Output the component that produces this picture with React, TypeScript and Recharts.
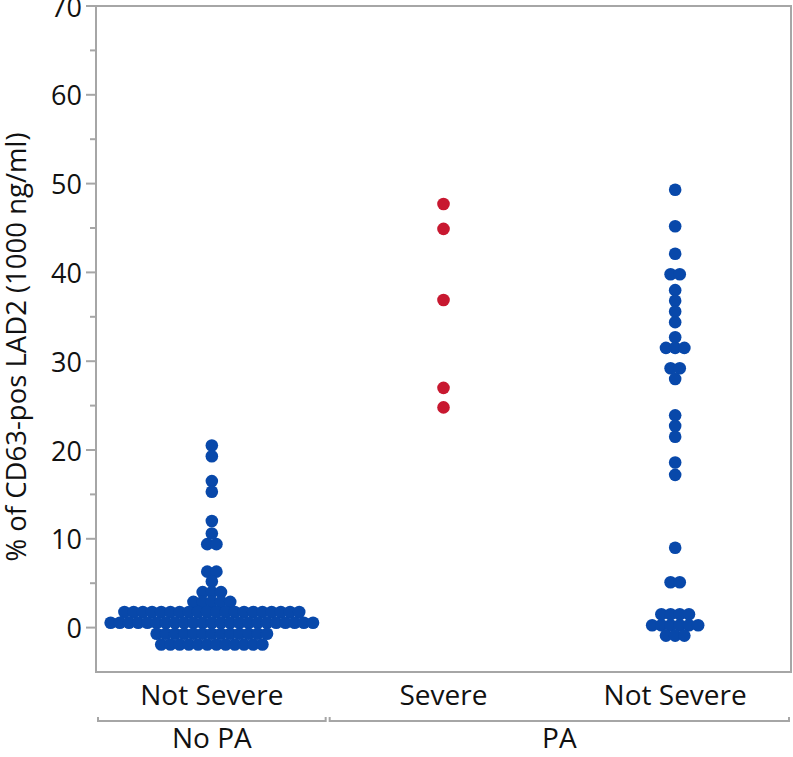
import React from 'react';
import { ScatterChart, Scatter, XAxis, YAxis, ReferenceArea } from 'recharts';

// categories along the bottom, and the groups that bracket them
const categories = ['Not Severe', 'Severe', 'Not Severe'];
const categoryGroup = [0, 1, 1];
const groupNames = ['No PA', 'PA'];
const groupSpans = [[0, 1], [1, 3]];

// % of CD63-pos LAD2 (1000 ng/ml) (one entry per dot)
const noPaNotSevere = [
    20.5, 19.3, 16.5, 15.3, 12.0, 10.6, 9.4, 9.4, 6.3, 6.3, 5.2,
    4.0, 4.0, 4.0,
    2.9, 2.9, 2.9, 2.9, 2.9,
    1.75, 1.75, 1.75, 1.75, 1.75, 1.75, 1.75, 1.75, 1.75, 1.75,
    1.75, 1.75, 1.75, 1.75, 1.75, 1.75, 1.75, 1.75, 1.75, 1.75,
    0.55, 0.55, 0.55, 0.55, 0.55, 0.55, 0.55, 0.55, 0.55, 0.55, 0.55, 0.55,
    0.55, 0.55, 0.55, 0.55, 0.55, 0.55, 0.55, 0.55, 0.55, 0.55, 0.55,
    -0.7, -0.7, -0.7, -0.7, -0.7, -0.7, -0.7, -0.7, -0.7, -0.7, -0.7, -0.7, -0.7,
    -1.9, -1.9, -1.9, -1.9, -1.9, -1.9, -1.9, -1.9, -1.9, -1.9, -1.9, -1.9,
];
const paSevere = [47.7, 44.9, 36.9, 27.0, 24.8];
const paNotSevere = [
    49.3, 45.2, 42.1, 39.8, 39.8, 38.0, 36.8, 35.6, 34.4, 32.7,
    31.5, 31.5, 31.5, 29.2, 29.2, 28.0, 23.9, 22.7, 21.5, 18.6, 17.2,
    9.0, 5.1, 5.1,
    1.5, 1.5, 1.5, 1.5,
    0.26, 0.26, 0.26, 0.26, 0.26, 0.26,
    -0.9, -0.9, -0.9,
];

const xTicks = [0.5, 1.5, 2.5];
const yTicks = [0, 5, 10, 15, 20, 25, 30, 35, 40, 45, 50, 55, 60, 65, 70];

const BLUE = '#0848aa';
const RED = '#c81830';
const AXIS = '#a6a6a6';
const FONT = '"Open Sans", "DejaVu Sans", sans-serif';

const W = 793;
const H = 757;
const Y_AXIS_W = 96;
const RIGHT = 2;
const UNIT = (W - Y_AXIS_W - RIGHT) / 3; // px per category on the x axis
const DOT_STEP = 9.2 / UNIT; // horizontal step between dots in one row

// simple swarm layout: equal values share a row and are centred on the category
const swarm = (values: number[], center: number) => {
    const rows = new Map<number, number>();
    values.forEach(v => rows.set(v, (rows.get(v) || 0) + 1));
    const pts: { x: number; y: number }[] = [];
    rows.forEach((n, v) => {
        for (let i = 0; i < n; i++) {
            pts.push({ x: center + (i - (n - 1) / 2) * DOT_STEP, y: v });
        }
    });
    return pts;
};

const dot = (color: string) => (props: any) =>
    <circle cx={props.cx} cy={props.cy} r={6.3} fill={color} />;

const YTick = (props: any) => {
    const { x, y, payload } = props;
    const major = payload.value % 10 === 0;
    return (
        <g>
            <line x1={x + (major ? 4 : 8)} x2={x + 14} y1={y} y2={y} stroke={AXIS} strokeWidth={2} />
            {major && (
                <text x={x} y={y} textAnchor="end" dominantBaseline="central" fontSize={27} fontFamily={FONT} fill="#111">
                    {payload.value}
                </text>
            )}
        </g>
    );
};

// category label, plus the group bracket and name under the first category of each group
const CatTick = (props: any) => {
    const { x, y, index } = props;
    const g = categoryGroup[index];
    const firstOfGroup = categoryGroup.indexOf(g) === index;
    let group = null;
    if (firstOfGroup) {
        const [from, to] = groupSpans[g];
        const here = xTicks[index];
        const left = x - (here - from) * UNIT + 2;
        const right = x + (to - here) * UNIT - 2;
        const cx = x + ((from + to) / 2 - here) * UNIT;
        const by = y + 49;
        group = (
            <g>
                <polyline points={`${left},${by - 4} ${left},${by} ${right},${by} ${right},${by - 4}`} fill="none" stroke={AXIS} strokeWidth={2} />
                <text x={cx} y={y + 76} textAnchor="middle" fontSize={28} fontFamily={FONT} fill="#111">
                    {groupNames[g]}
                </text>
            </g>
        );
    }
    return (
        <g>
            <text x={x} y={y + 33} textAnchor="middle" fontSize={28} fontFamily={FONT} fill="#111">
                {categories[index]}
            </text>
            {group}
        </g>
    );
};

const YTitle = () => (
    <text x={15} y={347} transform="rotate(-90, 15, 347)" textAnchor="middle" dominantBaseline="central" fontSize={27.5} fontFamily={FONT} fill="#111">
        % of CD63-pos LAD2 (1000 ng/ml)
    </text>
);

export default function App() {
    return (
        <div style={{ position: 'absolute', left: 0, top: 0 }}>
            <ScatterChart width={W} height={H} margin={{ top: 6, right: RIGHT, bottom: 0, left: 0 }}>
                <XAxis
                    type="number"
                    dataKey="x"
                    domain={[0, 3]}
                    allowDataOverflow
                    ticks={xTicks}
                    interval={0}
                    height={85}
                    tickSize={0}
                    tickMargin={0}
                    axisLine={false}
                    tickLine={false}
                    tick={<CatTick />}
                />
                <YAxis
                    type="number"
                    dataKey="y"
                    domain={[-5, 70]}
                    allowDataOverflow
                    ticks={yTicks}
                    interval={0}
                    width={Y_AXIS_W}
                    tickSize={10}
                    tickMargin={4}
                    axisLine={false}
                    tickLine={false}
                    tick={<YTick />}
                    label={<YTitle />}
                />
                <ReferenceArea x1={0} x2={3} y1={-5} y2={70} fill="none" fillOpacity={0} stroke={AXIS} strokeWidth={2} ifOverflow="visible" />
                <Scatter data={swarm(noPaNotSevere, 0.5)} shape={dot(BLUE)} isAnimationActive={false} />
                <Scatter data={swarm(paSevere, 1.5)} shape={dot(RED)} isAnimationActive={false} />
                <Scatter data={swarm(paNotSevere, 2.5)} shape={dot(BLUE)} isAnimationActive={false} />
            </ScatterChart>
        </div>
    );
}
